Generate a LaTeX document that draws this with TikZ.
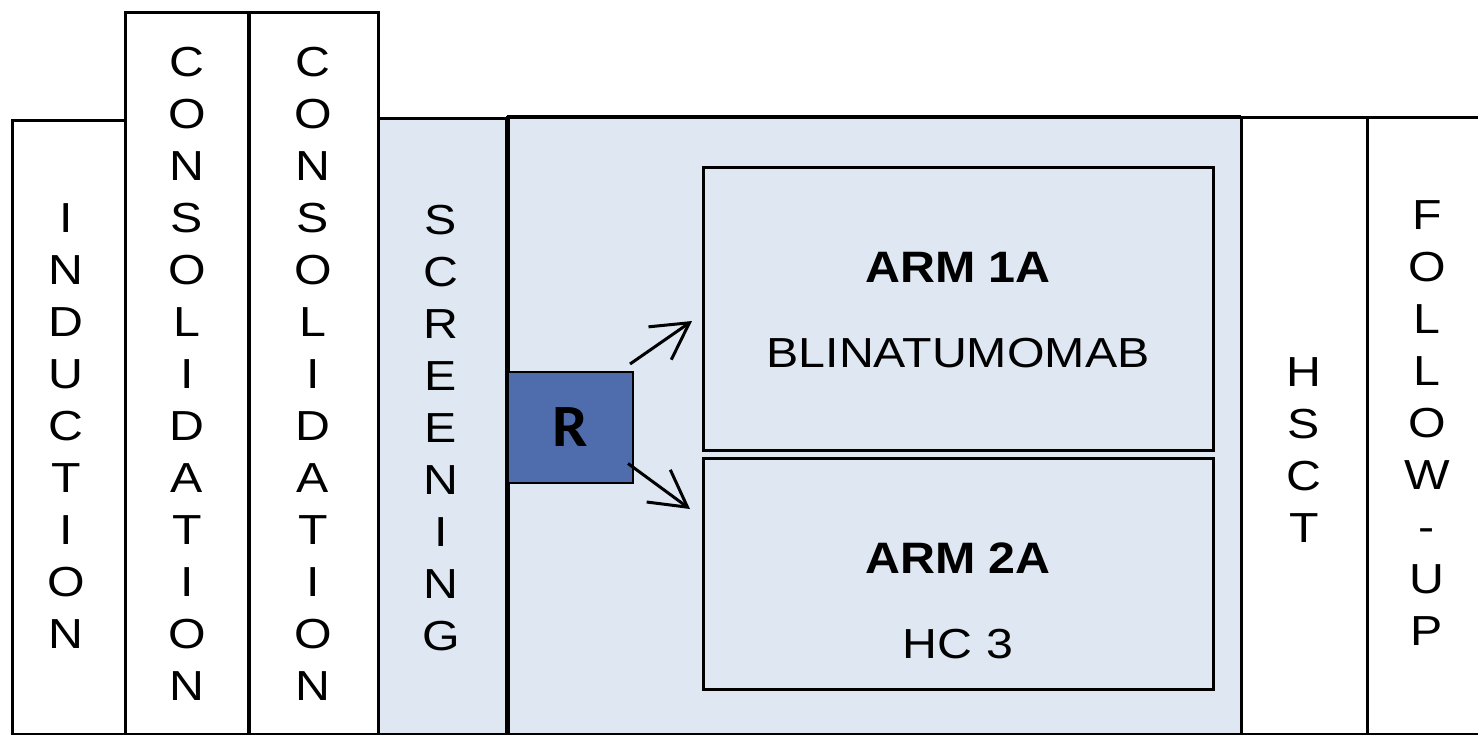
\documentclass[tikz,border=0pt]{standalone}
\usepackage{fontspec}
\usetikzlibrary{arrows.meta,calc}
\newfontfamily\lsans[FakeStretch=1.15]{Liberation Sans}
\newfontfamily\armfont[FakeStretch=1.1]{Liberation Sans}
\newfontfamily\rfont[FakeStretch=1.05]{Carlito}
\definecolor{lblue}{HTML}{DEE7F2}
\definecolor{rblue}{HTML}{4F6DAD}
\tikzset{
  colbox/.style={draw, line width=3pt, anchor=north west, inner sep=0pt, outer sep=0pt},
  armbox/.style={draw, line width=3pt, anchor=north west, inner sep=0pt, outer sep=0pt, minimum width=510pt},
  rbox/.style={draw, line width=2.5pt, fill=rblue, inner sep=0pt, outer sep=0pt, anchor=north west, font=\rfont\bfseries\fontsize{60}{60}\selectfont},
  vtext/.style={font=\lsans\fontsize{42}{52}\selectfont, align=center, inner sep=0pt, anchor=north},
  armtitle/.style={font=\armfont\bfseries\fontsize{44}{50}\selectfont, inner sep=0pt, anchor=base},
  armtext/.style={font=\lsans\fontsize{42}{50}\selectfont, inner sep=0pt, anchor=base},
  arr/.style={line width=3pt, -{Straight Barb[length=36pt, width=40pt]}}
}
\begin{document}
\begin{tikzpicture}[x=1pt,y=-1pt]
\fill[white] (0,0) rectangle (1478,734);
\useasboundingbox (0,0) rectangle (1478,734);
\fill[lblue] (378,118) rectangle (1241,736);
% column boxes
\node[colbox, minimum width=113pt, minimum height=614pt] (ind) at (12,120) {};
\node[colbox, minimum width=124pt, minimum height=722pt] (con1) at (125,12) {};
\node[colbox, minimum width=129pt, minimum height=722pt] (con2) at (249,12) {};
\node[colbox, minimum width=129pt, minimum height=616pt] (scr) at (378,118) {};
\node[colbox, minimum width=734pt, minimum height=617pt] (big) at (507,117) {};
\node[colbox, minimum width=126pt, minimum height=617pt] (hsct) at (1241,117) {};
\node[colbox, minimum width=140pt, minimum height=617pt] (fol) at (1367,117) {};
\draw[line width=4.5pt] (con1.north east) -- (con1.south east);
\draw[line width=4pt] (big.north west) -- (big.north east);
\draw[line width=5pt] (big.north west) -- (big.south west);
% vertical labels
\node[vtext] (tind) at (66,203) {I\\N\\D\\U\\C\\T\\I\\O\\N};
\node[vtext] (tcon1) at (187,47) {C\\O\\N\\S\\O\\L\\I\\D\\A\\T\\I\\O\\N};
\node[vtext] (tcon2) at (313,47) {C\\O\\N\\S\\O\\L\\I\\D\\A\\T\\I\\O\\N};
\node[vtext] (tscr) at (441,205) {S\\C\\R\\E\\E\\N\\I\\N\\G};
\node[vtext] (thsct) at (1304,357) {H\\S\\C\\T};
\node[vtext] (tfol) at (1427,200) {F\\O\\L\\L\\O\\W\\-\\U\\P};
% arms
\node[armbox, minimum height=283pt] (arm1) at (703,167) {};
\node[armbox, minimum height=231pt] (arm2) at (703,458) {};
\node[armtitle] (a1t) at (958,282) {ARM 1A};
\node[armtext] (a1d) at (958,367) {BLINATUMOMAB};
\node[armtitle] (a2t) at (958,573) {ARM 2A};
\node[armtext] (a2d) at (958,658) {HC 3};
% randomisation
\node[rbox, minimum width=125pt, minimum height=111pt] (R) at (508,372) {R};
\draw[arr] ($(R.north east)+(-3,-8)$) -- ($(arm1.west)+(-11,12.5)$);
\draw[arr] ($(R.east)+(-5,36)$) -- ($(arm2.west)+(-13,-64.5)$);
\end{tikzpicture}
\end{document}
